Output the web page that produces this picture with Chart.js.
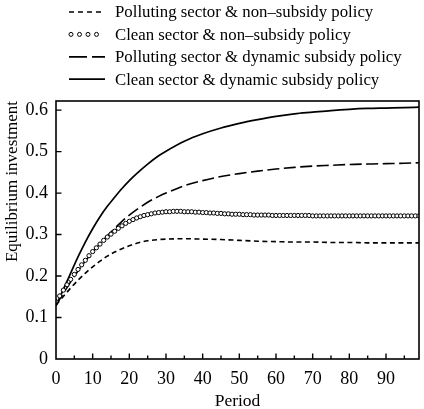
<!DOCTYPE html>
<html>
<head>
<meta charset="utf-8">
<script src="https://cdn.jsdelivr.net/npm/chart.js@4.4.1/dist/chart.umd.min.js"></script>
<style>
    body { margin: 0; background: #fff; }
    canvas { display: block; }
</style>
</head>
<body>
<canvas id="chart" width="424" height="409"></canvas>
<script>
const seriesLabels = [
    "Polluting sector & non\u2013subsidy policy",
    "Clean sector & non\u2013subsidy policy",
    "Polluting sector & dynamic subsidy policy",
    "Clean sector & dynamic subsidy policy",
];

const periods = [0, 2, 4, 6, 8, 10, 12, 14, 16, 18, 20, 22, 25, 28, 30, 35, 40, 45, 50, 55, 60, 65, 70, 75, 80, 85, 90, 95, 99];

const pollutingNonSubsidy = [0.13, 0.151, 0.171, 0.19, 0.207, 0.222, 0.236, 0.248, 0.258, 0.266, 0.273, 0.279, 0.285, 0.288, 0.289, 0.29, 0.289, 0.288, 0.286, 0.284, 0.283, 0.282, 0.282, 0.281, 0.281, 0.28, 0.28, 0.28, 0.28];
const pollutingDynamic = [0.13, 0.158, 0.186, 0.212, 0.236, 0.258, 0.278, 0.297, 0.315, 0.332, 0.347, 0.36, 0.378, 0.392, 0.4, 0.418, 0.43, 0.44, 0.447, 0.453, 0.458, 0.462, 0.465, 0.467, 0.469, 0.47, 0.471, 0.472, 0.473];
const cleanDynamic = [0.128, 0.168, 0.207, 0.246, 0.282, 0.314, 0.343, 0.368, 0.39, 0.411, 0.43, 0.447, 0.47, 0.49, 0.501, 0.525, 0.543, 0.557, 0.568, 0.577, 0.585, 0.591, 0.595, 0.599, 0.602, 0.604, 0.605, 0.606, 0.607];

// clean sector, no subsidy: one marker per period 0..99
const cleanNonSubsidy = [
    0.138, 0.152, 0.166, 0.179, 0.192, 0.204, 0.216, 0.227, 0.238, 0.249,
    0.259, 0.268, 0.277, 0.286, 0.294, 0.301, 0.308, 0.315, 0.321, 0.327,
    0.332, 0.336, 0.34, 0.343, 0.346, 0.348, 0.35, 0.352, 0.353, 0.354,
    0.355, 0.355, 0.356, 0.356, 0.356, 0.355, 0.355, 0.355, 0.354, 0.354,
    0.353, 0.353, 0.352, 0.352, 0.351, 0.351, 0.35, 0.35, 0.349, 0.349,
    0.349, 0.348, 0.348, 0.348, 0.347, 0.347, 0.347, 0.347, 0.347, 0.346,
    0.346, 0.346, 0.346, 0.346, 0.346, 0.346, 0.346, 0.346, 0.346, 0.346,
    0.345, 0.345, 0.345, 0.345, 0.345, 0.345, 0.345, 0.345, 0.345, 0.345,
    0.345, 0.345, 0.345, 0.345, 0.345, 0.345, 0.345, 0.345, 0.345, 0.345,
    0.345, 0.345, 0.345, 0.345, 0.345, 0.345, 0.345, 0.345, 0.345, 0.345,
];
const everyPeriod = cleanNonSubsidy.map((v, i) => i);

const FONT = "Liberation Serif, Times New Roman, serif";
const INK = "#000";

const toXY = (xs, ys) => xs.map((x, i) => ({ x, y: ys[i] }));

// draws the legend rows above the plot
const legendRows = {
    id: "legendRows",
    afterDraw(chart) {
        const ctx = chart.ctx;
        ctx.save();
        chart.data.datasets.forEach((ds, i) => {
            const y = 12 + i * 22.4;
            ctx.strokeStyle = INK;
            ctx.fillStyle = "#fff";
            if (ds.showLine === false) {
                ctx.lineWidth = 1;
                for (let k = 0; k < 4; k++) {
                    ctx.beginPath();
                    ctx.arc(71 + k * 8.5, y, 2, 0, Math.PI * 2);
                    ctx.fill();
                    ctx.stroke();
                }
            } else {
                ctx.lineWidth = 1.7;
                ctx.setLineDash(ds.legendDash || []);
                ctx.beginPath();
                ctx.moveTo(69, y);
                ctx.lineTo(105, y);
                ctx.stroke();
                ctx.setLineDash([]);
            }
            ctx.fillStyle = INK;
            ctx.font = "16.8px " + FONT;
            ctx.textBaseline = "middle";
            ctx.fillText(ds.label, 115, y + 1);
        });
        ctx.restore();
    },
};

// box frame and inward tick marks
const frameTicks = {
    id: "frameTicks",
    afterDatasetsDraw(chart) {
        const { ctx, chartArea: a, scales } = chart;
        ctx.save();
        ctx.strokeStyle = INK;
        ctx.lineWidth = 1.6;
        ctx.strokeRect(a.left, a.top, a.right - a.left, a.bottom - a.top);
        ctx.lineWidth = 1.4;
        ctx.beginPath();
        for (let v = 5; v < 99; v += 5) {
            const x = scales.x.getPixelForValue(v);
            ctx.moveTo(x, a.bottom);
            ctx.lineTo(x, a.bottom - (v % 10 ? 3.5 : 5.5));
        }
        scales.y.ticks.forEach((t) => {
            if (t.value <= 0) return;
            const y = scales.y.getPixelForValue(t.value);
            ctx.moveTo(a.left, y);
            ctx.lineTo(a.left + 5.5, y);
        });
        ctx.stroke();
        ctx.restore();
    },
};

new Chart(document.getElementById("chart"), {
    type: "line",
    data: {
        datasets: [
            {
                label: seriesLabels[0],
                data: toXY(periods, pollutingNonSubsidy),
                borderColor: INK,
                borderWidth: 1.6,
                borderDash: [5, 3.5],
                legendDash: [5, 4],
                pointRadius: 0,
                cubicInterpolationMode: "monotone",
            },
            {
                label: seriesLabels[1],
                data: toXY(everyPeriod, cleanNonSubsidy),
                showLine: false,
                pointStyle: "circle",
                pointRadius: 2.1,
                pointBorderWidth: 1,
                pointBorderColor: INK,
                pointBackgroundColor: "#fff",
            },
            {
                label: seriesLabels[2],
                data: toXY(periods, pollutingDynamic),
                borderColor: INK,
                borderWidth: 1.6,
                borderDash: [12, 4.5],
                legendDash: [18, 5],
                pointRadius: 0,
                cubicInterpolationMode: "monotone",
            },
            {
                label: seriesLabels[3],
                data: toXY(periods, cleanDynamic),
                borderColor: INK,
                borderWidth: 1.7,
                pointRadius: 0,
                cubicInterpolationMode: "monotone",
            },
        ],
    },
    options: {
        responsive: false,
        animation: false,
        devicePixelRatio: 1,
        layout: { padding: { top: 101, right: 5, left: 0, bottom: 0 } },
        plugins: {
            legend: { display: false },
            tooltip: { enabled: false },
        },
        scales: {
            x: {
                type: "linear",
                min: 0,
                max: 99,
                grid: { display: false, drawTicks: false },
                border: { display: false },
                ticks: {
                    stepSize: 10,
                    includeBounds: false,
                    maxRotation: 0,
                    padding: 9,
                    color: INK,
                    font: { family: FONT, size: 18 },
                },
                title: {
                    display: true,
                    text: "Period",
                    color: INK,
                    font: { family: FONT, size: 17.5 },
                    padding: { top: 0, bottom: -3 },
                },
                afterFit: (s) => { s.height = 50; },
            },
            y: {
                min: 0,
                max: 0.622,
                grid: { display: false, drawTicks: false },
                border: { display: false },
                ticks: {
                    stepSize: 0.1,
                    includeBounds: false,
                    padding: 8,
                    color: INK,
                    font: { family: FONT, size: 18 },
                    callback: (v) => (v === 0 ? "0" : v.toFixed(1)),
                },
                title: {
                    display: true,
                    text: "Equilibrium investment",
                    align: "end",
                    color: INK,
                    font: { family: FONT, size: 17 },
                    padding: { top: 2, bottom: 0 },
                },
                afterFit: (s) => { s.width = 56; },
            },
        },
    },
    plugins: [frameTicks, legendRows],
});
</script>
</body>
</html>
